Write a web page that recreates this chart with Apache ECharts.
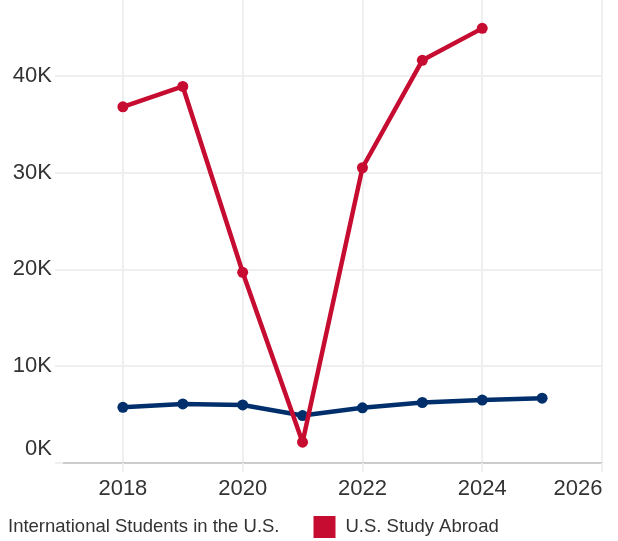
<!DOCTYPE html>
<html>
<head>
<meta charset="utf-8">
<script src="https://cdn.jsdelivr.net/npm/echarts@6/dist/echarts.min.js"></script>
<style>html,body{margin:0;padding:0;background:#fff;}#c{width:618px;height:541px;}</style>
</head>
<body>
<div id="c"></div>
<script>
var intlYears = [2018, 2019, 2020, 2021, 2022, 2023, 2024, 2025];
var intlValues = [5750, 6100, 6000, 4900, 5700, 6250, 6500, 6700];
var abroadYears = [2018, 2019, 2020, 2021, 2022, 2023, 2024];
var abroadValues = [36800, 38900, 19700, 2150, 30500, 41600, 44900];
var seriesNames = ['International Students in the U.S.', 'U.S. Study Abroad'];
var xTickYears = [2018, 2020, 2022, 2024, 2026];

function pairs(xs, ys) { return xs.map(function (x, i) { return [x, ys[i]]; }); }

var chart = echarts.init(document.getElementById('c'));
var gridCol = '#efefef';
chart.setOption({
  animation: false,
  textStyle: { fontFamily: 'Liberation Sans, Arial, sans-serif' },
  grid: { left: 63, right: 16, top: -21, bottom: 78, containLabel: false, outerBoundsMode: 'none' },
  legend: {
    left: -24, top: 516, padding: 0,
    itemWidth: 22, itemHeight: 22, itemGap: 34,
    icon: 'rect',
    textStyle: { fontSize: 18.5, color: '#333', padding: [0, 0, 0, 5] },
    data: seriesNames
  },
  xAxis: {
    type: 'value', min: 2017, max: 2026, interval: 1,
    axisLine: { show: true, lineStyle: { color: '#cccccc', width: 2 } },
    axisTick: { show: true, length: 9, customValues: xTickYears, lineStyle: { color: gridCol, width: 2 } },
    splitLine: { show: true, lineStyle: { color: gridCol, width: 2 } },
    axisLabel: {
      fontSize: 22, color: '#333', margin: 15, customValues: xTickYears,
      formatter: function (v) {
        return v === xTickYears[xTickYears.length - 1] ? '{e|' + v + '}' : String(v);
      },
      rich: { e: { fontSize: 22, color: '#333', padding: [0, 48, 0, 0] } }
    }
  },
  yAxis: {
    type: 'value', min: 0, max: 50000, interval: 10000,
    axisLine: { show: false },
    axisTick: { show: true, length: 8, lineStyle: { color: gridCol, width: 2 } },
    splitLine: { show: true, lineStyle: { color: gridCol, width: 2 } },
    axisLabel: {
      fontSize: 22, color: '#333', margin: 11,
      formatter: function (v) {
        if (v === 0) return '{z|0K}';
        return (v / 1000) + 'K';
      },
      rich: { z: { fontSize: 22, color: '#333', padding: [0, 0, 28, 0] } }
    }
  },
  series: [
    {
      name: seriesNames[0], type: 'line', data: pairs(intlYears, intlValues),
      color: '#002f6c', lineStyle: { width: 4.5, color: '#002f6c' },
      symbol: 'circle', symbolSize: 11, itemStyle: { color: '#002f6c' }, z: 2
    },
    {
      name: seriesNames[1], type: 'line', data: pairs(abroadYears, abroadValues),
      color: '#c60c30', lineStyle: { width: 4.5, color: '#c60c30' },
      symbol: 'circle', symbolSize: 11, itemStyle: { color: '#c60c30' }, z: 3
    }
  ]
});
</script>
</body>
</html>
